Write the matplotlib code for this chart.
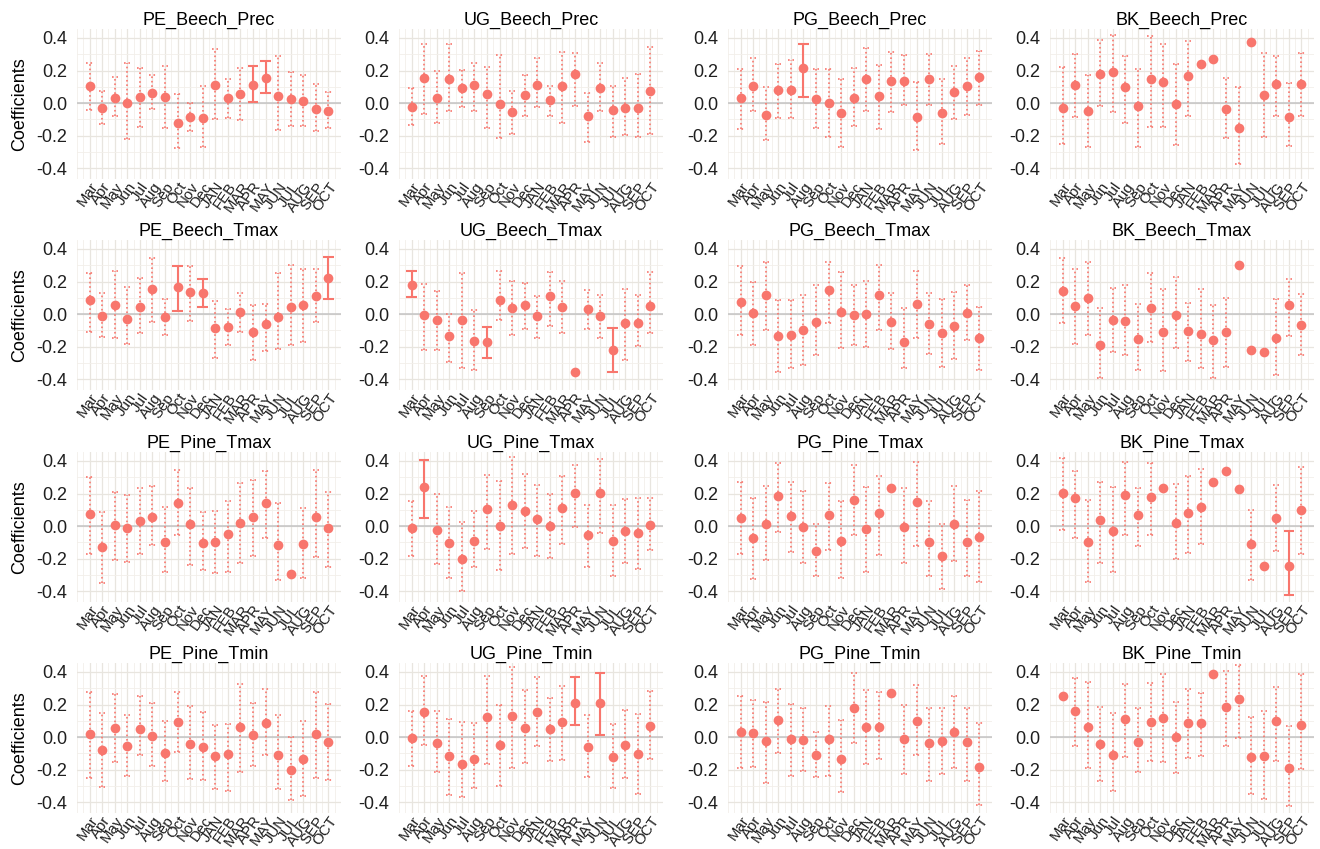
import numpy as np
import matplotlib
matplotlib.use("Agg")
import matplotlib.pyplot as plt
from matplotlib.ticker import MultipleLocator

plt.rcParams['font.family'] = ['Liberation Sans', 'DejaVu Sans']

nan = np.nan
months = ["Mar", "Apr", "May", "Jun", "Jul", "Aug", "Sep", "Oct", "Nov", "Dec",
          "JAN", "FEB", "MAR", "APR", "MAY", "JUN", "JUL", "AUG", "SEP", "OCT"]

# ---- row 1: Beech, precipitation ----
pe_beech_prec_coef = [0.106, -0.03, 0.03, 0.004, 0.035, 0.063, 0.035, -0.123, -0.085, -0.088,
                      0.112, 0.03, 0.058, 0.112, 0.154, 0.044, 0.023, 0.015, -0.038, -0.048]
pe_beech_prec_lo = [-0.04, -0.13, -0.077, -0.22, -0.144, -0.037, -0.154, -0.277, -0.171, -0.27,
                    -0.1, -0.09, -0.106, 0.006, 0.063, -0.167, -0.142, -0.138, -0.173, -0.154]
pe_beech_prec_hi = [0.246, 0.073, 0.16, 0.246, 0.217, 0.17, 0.227, 0.058, 0.002, 0.106,
                    0.33, 0.15, 0.217, 0.227, 0.26, 0.29, 0.19, 0.173, 0.12, 0.069]

ug_beech_prec_coef = [-0.024, 0.154, 0.034, 0.15, 0.094, 0.11, 0.054, -0.006, -0.056, 0.05,
                      0.114, 0.02, 0.104, 0.176, -0.08, 0.094, -0.04, -0.032, -0.032, 0.076]
ug_beech_prec_lo = [-0.136, -0.066, -0.12, -0.05, -0.024, -0.05, -0.154, -0.214, -0.19, -0.076,
                    -0.024, -0.076, -0.12, -0.016, -0.236, -0.05, -0.206, -0.196, -0.21, -0.186]
ug_beech_prec_hi = [0.094, 0.36, 0.2, 0.364, 0.204, 0.244, 0.224, 0.296, 0.076, 0.174,
                    0.28, 0.106, 0.316, 0.31, 0.06, 0.246, 0.104, 0.156, 0.176, 0.344]

pg_beech_prec_coef = [0.033, 0.107, -0.074, 0.083, 0.083, 0.214, 0.025, 0.004, -0.058, 0.033,
                      0.146, 0.045, 0.138, 0.136, -0.087, 0.151, -0.058, 0.068, 0.103, 0.161]
pg_beech_prec_lo = [-0.16, -0.05, -0.227, -0.09, -0.09, 0.039, -0.15, -0.21, -0.266, -0.14,
                    -0.045, -0.16, -0.052, -0.014, -0.29, -0.01, -0.25, -0.1, -0.074, -0.01]
pg_beech_prec_hi = [0.21, 0.28, 0.097, 0.243, 0.262, 0.36, 0.21, 0.21, 0.151, 0.214,
                    0.336, 0.233, 0.315, 0.297, 0.13, 0.3, 0.151, 0.227, 0.28, 0.32]

bk_beech_prec_coef = [-0.027, 0.11, -0.048, 0.18, 0.19, 0.1, -0.02, 0.146, 0.13, -0.002,
                      0.165, 0.24, 0.27, -0.038, -0.152, 0.375, 0.052, 0.12, -0.083, 0.12]
bk_beech_prec_lo = [-0.25, -0.083, -0.27, -0.02, -0.052, -0.12, -0.27, -0.146, -0.146, -0.254,
                    -0.077, nan, nan, -0.215, -0.375, nan, -0.21, -0.077, -0.26, -0.077]
bk_beech_prec_hi = [0.22, 0.3, 0.17, 0.39, 0.42, 0.29, 0.21, 0.41, 0.365, 0.24,
                    0.38, nan, nan, 0.156, 0.098, nan, 0.306, 0.29, 0.125, 0.306]

# ---- row 2: Beech, Tmax ----
pe_beech_tmax_coef = [0.09, -0.012, 0.059, -0.027, 0.047, 0.155, -0.018, 0.165, 0.137, 0.13,
                      -0.084, -0.08, 0.014, -0.112, -0.059, -0.016, 0.043, 0.059, 0.112, 0.222]
pe_beech_tmax_lo = [-0.108, -0.139, -0.149, -0.184, -0.118, -0.05, -0.129, 0.02, -0.043, 0.043,
                    -0.267, -0.19, -0.108, -0.278, -0.224, -0.216, -0.186, -0.173, -0.045, 0.096]
pe_beech_tmax_hi = [0.253, 0.127, 0.265, 0.167, 0.224, 0.345, 0.096, 0.296, 0.296, 0.218,
                    0.082, 0.029, 0.131, 0.055, 0.065, 0.255, 0.304, 0.278, 0.278, 0.349]

ug_beech_tmax_coef = [0.182, -0.006, -0.037, -0.135, -0.037, -0.165, -0.17, 0.09, 0.039, 0.055,
                      -0.012, 0.11, 0.045, -0.353, 0.029, -0.012, -0.22, -0.057, -0.057, 0.051]
ug_beech_tmax_lo = [0.106, -0.22, -0.22, -0.296, -0.333, -0.343, -0.271, -0.037, -0.129, -0.088,
                    -0.149, -0.073, -0.118, nan, -0.088, -0.145, -0.353, -0.282, -0.196, -0.118]
ug_beech_tmax_hi = [0.267, 0.184, 0.141, 0.004, 0.253, 0.027, -0.078, 0.265, 0.202, 0.192,
                    0.11, 0.257, 0.202, nan, 0.151, 0.116, -0.084, 0.157, 0.116, 0.257]

pg_beech_tmax_coef = [0.075, 0.006, 0.115, -0.135, -0.127, -0.095, -0.046, 0.147, 0.016, -0.004,
                      0.0, 0.115, -0.046, -0.168, 0.061, -0.06, -0.115, -0.07, 0.006, -0.145]
pg_beech_tmax_lo = [-0.127, -0.192, -0.095, -0.354, -0.33, -0.31, -0.25, -0.057, -0.208, -0.192,
                    -0.2, -0.095, -0.216, -0.333, -0.147, -0.242, -0.323, -0.273, -0.158, -0.343]
pg_beech_tmax_hi = [0.293, 0.196, 0.323, 0.085, 0.085, 0.117, 0.176, 0.323, 0.257, 0.182,
                    0.206, 0.303, 0.131, 0.04, 0.263, 0.131, 0.095, 0.135, 0.176, 0.046]

bk_beech_tmax_coef = [0.145, 0.05, 0.101, -0.192, -0.034, -0.04, -0.152, 0.04, -0.111, -0.004,
                      -0.105, -0.121, -0.158, -0.107, 0.303, -0.222, -0.232, -0.147, 0.055, -0.065]
bk_beech_tmax_lo = [-0.057, -0.182, -0.127, -0.394, -0.232, -0.248, -0.34, -0.168, -0.347, -0.208,
                    -0.289, -0.333, -0.394, -0.323, nan, nan, nan, -0.37, -0.131, -0.253]
bk_beech_tmax_hi = [0.347, 0.277, 0.323, 0.04, 0.162, 0.176, 0.061, 0.253, 0.152, 0.228,
                    0.071, 0.152, 0.055, 0.101, nan, nan, nan, 0.095, 0.216, 0.125]

# ---- row 3: Pine, Tmax ----
pe_pine_tmax_coef = [0.076, -0.129, 0.008, -0.01, 0.031, 0.059, -0.098, 0.141, 0.014, -0.102,
                     -0.094, -0.047, 0.018, 0.055, 0.141, -0.114, -0.296, -0.108, 0.059, -0.01]
pe_pine_tmax_lo = [-0.169, -0.349, -0.21, -0.22, -0.173, -0.118, -0.278, -0.057, -0.235, -0.271,
                   -0.286, -0.282, -0.224, -0.18, -0.073, -0.333, nan, -0.318, -0.19, -0.251]
pe_pine_tmax_hi = [0.3, 0.086, 0.212, 0.192, 0.233, 0.249, 0.116, 0.345, 0.233, 0.086,
                   0.096, 0.157, 0.263, 0.284, 0.341, 0.141, nan, 0.11, 0.345, 0.212]

ug_pine_tmax_coef = [-0.01, 0.243, -0.022, -0.104, -0.204, -0.088, 0.106, 0.0, 0.131, 0.096,
                     0.045, 0.004, 0.112, 0.202, -0.057, 0.202, -0.088, -0.031, -0.043, 0.008]
ug_pine_tmax_lo = [-0.18, 0.051, -0.231, -0.316, -0.398, -0.251, -0.139, -0.267, -0.169, -0.135,
                   -0.184, -0.196, -0.108, -0.004, -0.251, -0.041, -0.306, -0.227, -0.261, -0.149]
ug_pine_tmax_hi = [0.157, 0.408, 0.198, 0.116, 0.024, 0.096, 0.316, 0.28, 0.427, 0.32,
                   0.255, 0.198, 0.31, 0.378, 0.133, 0.41, 0.127, 0.167, 0.171, 0.171]

pg_pine_tmax_coef = [0.05, -0.07, 0.016, 0.186, 0.06, -0.004, -0.15, 0.066, -0.09, 0.16,
                     -0.02, 0.08, 0.232, -0.004, 0.146, -0.094, -0.184, 0.016, -0.094, -0.064]
pg_pine_tmax_lo = [-0.17, -0.324, -0.21, -0.034, -0.16, -0.224, -0.304, -0.144, -0.32, -0.054,
                   -0.284, -0.174, nan, -0.224, -0.12, -0.308, -0.384, -0.214, -0.304, -0.34]
pg_pine_tmax_hi = [0.27, 0.172, 0.246, 0.386, 0.27, 0.216, 0.012, 0.266, 0.152, 0.376,
                   0.24, 0.31, nan, 0.236, 0.396, 0.156, 0.012, 0.246, 0.16, 0.216]

bk_pine_tmax_coef = [0.206, 0.172, -0.094, 0.04, -0.028, 0.19, 0.07, 0.18, 0.236, 0.022,
                     0.08, 0.116, 0.27, 0.336, 0.23, -0.108, -0.244, 0.05, -0.244, 0.1]
bk_pine_tmax_lo = [-0.024, -0.074, -0.344, -0.224, -0.284, -0.054, -0.124, -0.054, nan, -0.204,
                   -0.164, -0.108, nan, nan, nan, -0.33, nan, -0.15, -0.424, -0.17]
bk_pine_tmax_hi = [0.416, 0.336, 0.16, 0.27, 0.24, 0.396, 0.236, 0.386, nan, 0.256,
                   0.306, 0.35, nan, nan, nan, 0.1, nan, 0.25, -0.028, 0.36]

# ---- row 4: Pine, Tmin ----
pe_pine_tmin_coef = [0.02, -0.08, 0.057, -0.051, 0.051, 0.01, -0.096, 0.094, -0.041, -0.061,
                     -0.116, -0.106, 0.065, 0.016, 0.088, -0.112, -0.204, -0.131, 0.02, -0.031]
pe_pine_tmin_lo = [-0.249, -0.306, -0.153, -0.235, -0.11, -0.178, -0.269, -0.09, -0.255, -0.265,
                   -0.32, -0.327, -0.212, -0.178, -0.112, -0.32, -0.388, -0.361, -0.249, -0.263]
pe_pine_tmin_hi = [0.276, 0.149, 0.265, 0.139, 0.251, 0.21, 0.102, 0.276, 0.19, 0.153,
                   0.073, 0.082, 0.327, 0.21, 0.298, 0.139, 0.003, 0.102, 0.278, 0.204]

ug_pine_tmin_coef = [-0.004, 0.153, -0.035, -0.116, -0.163, -0.133, 0.122, -0.049, 0.129, 0.057,
                     0.153, 0.051, 0.092, 0.21, -0.061, 0.21, -0.122, -0.045, -0.102, 0.071]
ug_pine_tmin_lo = [-0.178, -0.049, -0.212, -0.357, -0.367, -0.31, -0.163, -0.3, -0.188, -0.157,
                   -0.055, -0.147, -0.137, 0.073, -0.245, 0.016, -0.314, -0.253, -0.351, -0.133]
ug_pine_tmin_hi = [0.163, 0.373, 0.163, 0.114, 0.094, 0.088, 0.373, 0.2, 0.429, 0.292,
                   0.367, 0.241, 0.312, 0.369, 0.135, 0.394, 0.078, 0.169, 0.145, 0.286]

pg_pine_tmin_coef = [0.03, 0.026, -0.024, 0.107, -0.014, -0.02, -0.107, -0.014, -0.132, 0.176,
                     0.065, 0.061, 0.273, -0.01, 0.101, -0.034, -0.024, 0.03, -0.03, -0.182]
pg_pine_tmin_lo = [-0.188, -0.182, -0.283, -0.095, -0.237, -0.208, -0.247, -0.237, -0.334, -0.036,
                   -0.162, -0.136, nan, -0.227, -0.111, -0.269, -0.223, -0.192, -0.267, -0.415]
pg_pine_tmin_hi = [0.253, 0.227, 0.217, 0.298, 0.206, 0.182, 0.034, 0.192, 0.107, 0.391,
                   0.29, 0.277, nan, 0.196, 0.318, 0.178, 0.176, 0.253, 0.178, 0.085]

bk_pine_tmin_coef = [0.252, 0.16, 0.061, -0.041, -0.107, 0.109, -0.029, 0.092, 0.115, 0.0,
                     0.088, 0.088, 0.385, 0.184, 0.232, -0.123, -0.113, 0.098, -0.189, 0.072]
bk_pine_tmin_lo = [nan, -0.055, -0.189, -0.27, -0.328, -0.123, -0.215, -0.148, -0.154, -0.219,
                   -0.127, -0.117, nan, -0.055, -0.003, -0.348, -0.379, -0.148, -0.424, -0.193]
bk_pine_tmin_hi = [nan, 0.365, 0.34, 0.184, 0.15, 0.324, 0.176, 0.334, 0.385, 0.217,
                   0.293, 0.268, nan, 0.406, 0.44, 0.123, 0.16, 0.307, 0.068, 0.389]

panels = [
    [("PE_Beech_Prec", pe_beech_prec_coef, pe_beech_prec_lo, pe_beech_prec_hi),
     ("UG_Beech_Prec", ug_beech_prec_coef, ug_beech_prec_lo, ug_beech_prec_hi),
     ("PG_Beech_Prec", pg_beech_prec_coef, pg_beech_prec_lo, pg_beech_prec_hi),
     ("BK_Beech_Prec", bk_beech_prec_coef, bk_beech_prec_lo, bk_beech_prec_hi)],
    [("PE_Beech_Tmax", pe_beech_tmax_coef, pe_beech_tmax_lo, pe_beech_tmax_hi),
     ("UG_Beech_Tmax", ug_beech_tmax_coef, ug_beech_tmax_lo, ug_beech_tmax_hi),
     ("PG_Beech_Tmax", pg_beech_tmax_coef, pg_beech_tmax_lo, pg_beech_tmax_hi),
     ("BK_Beech_Tmax", bk_beech_tmax_coef, bk_beech_tmax_lo, bk_beech_tmax_hi)],
    [("PE_Pine_Tmax", pe_pine_tmax_coef, pe_pine_tmax_lo, pe_pine_tmax_hi),
     ("UG_Pine_Tmax", ug_pine_tmax_coef, ug_pine_tmax_lo, ug_pine_tmax_hi),
     ("PG_Pine_Tmax", pg_pine_tmax_coef, pg_pine_tmax_lo, pg_pine_tmax_hi),
     ("BK_Pine_Tmax", bk_pine_tmax_coef, bk_pine_tmax_lo, bk_pine_tmax_hi)],
    [("PE_Pine_Tmin", pe_pine_tmin_coef, pe_pine_tmin_lo, pe_pine_tmin_hi),
     ("UG_Pine_Tmin", ug_pine_tmin_coef, ug_pine_tmin_lo, ug_pine_tmin_hi),
     ("PG_Pine_Tmin", pg_pine_tmin_coef, pg_pine_tmin_lo, pg_pine_tmin_hi),
     ("BK_Pine_Tmin", bk_pine_tmin_coef, bk_pine_tmin_lo, bk_pine_tmin_hi)],
]

RED = "#F8766D"
W, H = 1320, 849
col_left = [77, 399, 728, 1050]
col_width = 264
row_top = [29, 240, 452, 663]
panel_h = 150
Y_LO, Y_HI = -0.465, 0.455


def draw_panel(ax, title, coef, lo, hi, ylabel):
    x = np.arange(len(months))
    coef = np.array(coef, dtype=float)
    lo = np.array(lo, dtype=float)
    hi = np.array(hi, dtype=float)
    has_ci = ~np.isnan(lo)
    sig = has_ci & ((lo > 0) | (hi < 0))
    ns = has_ci & ~sig

    ax.set_xlim(-1.0, len(months))
    ax.set_ylim(Y_LO, Y_HI)
    ax.xaxis.set_minor_locator(MultipleLocator(0.5))
    ax.yaxis.set_major_locator(MultipleLocator(0.2))
    ax.yaxis.set_minor_locator(MultipleLocator(0.1))
    ax.grid(True, which='major', color='#e8e5df', lw=0.9)
    ax.grid(True, which='minor', color='#f2efea', lw=0.6)
    ax.set_axisbelow(True)
    for s in ax.spines.values():
        s.set_visible(False)
    ax.tick_params(which='both', length=0)
    ax.tick_params(axis='y', labelsize=13, labelcolor='#1f1f1f', pad=7)
    ax.tick_params(axis='x', labelsize=10.8, labelcolor='#1f1f1f', pad=0.5)

    ax.axhline(0, color='#c4c4c4', lw=1.1, zorder=1)

    cw = 0.42
    ax.vlines(x[ns], lo[ns], hi[ns], colors=RED, linestyles=':', lw=1.2, zorder=2)
    ax.hlines(lo[ns], x[ns] - cw * 0.6, x[ns] + cw * 0.6, colors=RED, linestyles=':', lw=1.2, zorder=2)
    ax.hlines(hi[ns], x[ns] - cw * 0.6, x[ns] + cw * 0.6, colors=RED, linestyles=':', lw=1.2, zorder=2)

    ax.vlines(x[sig], lo[sig], hi[sig], colors=RED, lw=1.5, zorder=2)
    ax.hlines(lo[sig], x[sig] - cw, x[sig] + cw, colors=RED, lw=1.5, zorder=2)
    ax.hlines(hi[sig], x[sig] - cw, x[sig] + cw, colors=RED, lw=1.5, zorder=2)

    ax.plot(x, coef, 'o', color=RED, ms=7, mec='none', zorder=3)

    ax.set_xticks(x)
    ax.set_xticklabels(months, rotation=55, ha='right', rotation_mode='anchor')
    ax.set_yticks([-0.4, -0.2, 0.0, 0.2, 0.4])
    ax.set_yticklabels(["-0.4", "-0.2", "0.0", "0.2", "0.4"])
    ax.set_title(title, fontsize=13, pad=3)
    if ylabel:
        ax.set_ylabel("Coefficients", fontsize=13, labelpad=6)


fig = plt.figure(figsize=(W / 100, H / 100), dpi=100)
for r, row in enumerate(panels):
    for c, (title, coef, lo, hi) in enumerate(row):
        ax = fig.add_axes([col_left[c] / W, 1 - (row_top[r] + panel_h) / H,
                           col_width / W, panel_h / H])
        draw_panel(ax, title, coef, lo, hi, c == 0)

fig.savefig("out.png", dpi=100, facecolor='white')
